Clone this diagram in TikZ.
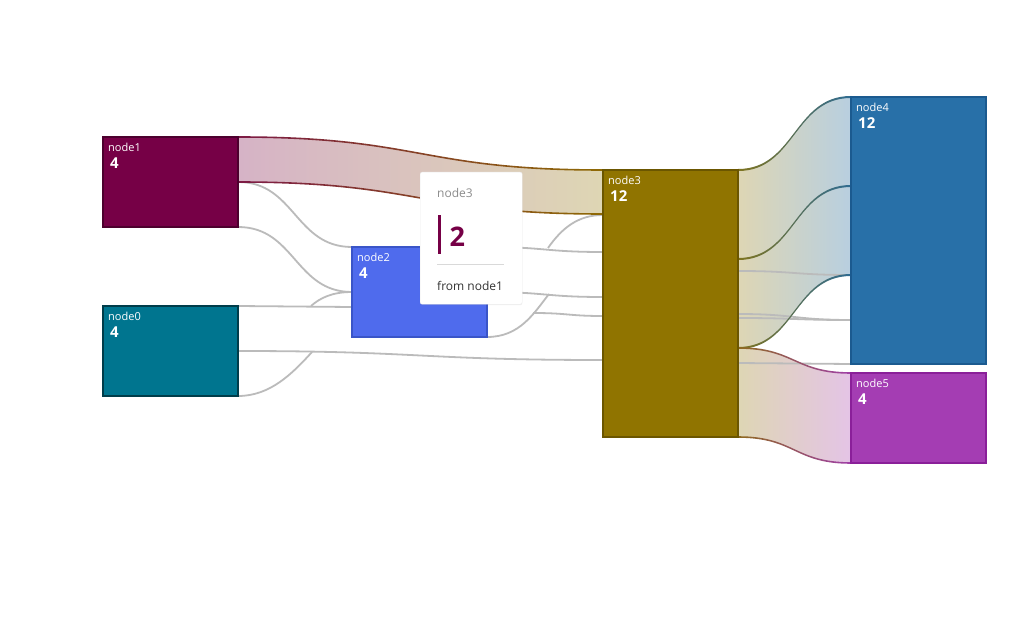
\documentclass[tikz,border=0pt]{standalone}
\usepackage{fontspec}
\setmainfont{Open Sans}
\usepackage{tikz}
\usetikzlibrary{shadows}
\definecolor{n0fill}{HTML}{00758F}
\definecolor{n0line}{HTML}{003D4A}
\definecolor{n1fill}{HTML}{760046}
\definecolor{n1line}{HTML}{4D002E}
\definecolor{n2fill}{HTML}{4F6BED}
\definecolor{n2line}{HTML}{3A55C8}
\definecolor{n3fill}{HTML}{907400}
\definecolor{n3line}{HTML}{6B5600}
\definecolor{n4fill}{HTML}{2870A8}
\definecolor{n4line}{HTML}{1B5A8F}
\definecolor{n5fill}{HTML}{A43DB3}
\definecolor{n5line}{HTML}{8A1F99}
\definecolor{linkgray}{HTML}{BBBBBB}
\definecolor{tan}{HTML}{DED6B4}
\definecolor{l13left}{HTML}{D6B3C6}
\definecolor{l34right}{HTML}{B8CFE0}
\definecolor{l35right}{HTML}{E4C4E6}
\definecolor{s13left}{HTML}{7D1A45}
\definecolor{s13right}{HTML}{8F6A05}
\definecolor{s34left}{HTML}{7F7420}
\definecolor{s34right}{HTML}{2F6C92}
\definecolor{s35left}{HTML}{8F6A20}
\definecolor{s35right}{HTML}{A040A8}
\tikzset{
    sknode/.style={
        draw, line width=2pt,
        inner sep=0pt, outer sep=0pt,
        anchor=north west,
        minimum width=135pt
    },
    smallbox/.style={minimum height=90pt},
    bigbox/.style={minimum height=267pt},
    nname/.style={anchor=west, inner sep=0pt, text=white, font=\fontsize{11}{13}\selectfont},
    nval/.style={anchor=west, inner sep=0pt, text=white, font=\fontsize{15}{18}\selectfont\bfseries},
    grayline/.style={draw=linkgray, line width=1.8pt},
    tipbox/.style={
        fill=white, draw=black!7, rounded corners=2pt,
        anchor=north west, inner sep=0pt,
        minimum width=102pt, minimum height=132pt,
        drop shadow={shadow xshift=0pt, shadow yshift=-1pt, opacity=0.12}
    },
    tiptext/.style={anchor=west, inner sep=0pt, font=\fontsize{12}{14}\selectfont}
}

\begin{document}
\begin{tikzpicture}[x=1pt, y=-1pt]

    % Canvas
    \useasboundingbox (0,0) rectangle (1032,628);
    \fill[white] (0,0) rectangle (1032,628);

    % Nodes (placed first, drawn again on top)
    \path (103,306) node[sknode, smallbox] (node0) {};
    \path (103,137) node[sknode, smallbox] (node1) {};
    \path (352,247) node[sknode, smallbox] (node2) {};
    \path (603,170) node[sknode, bigbox] (node3) {};
    \path (851,97) node[sknode, bigbox] (node4) {};
    \path (851,373) node[sknode, smallbox] (node5) {};

    % Link fills
    \shade[left color=l13left, right color=tan] (node1.north east) .. controls +(182,0) and +(-182,0) .. (node3.north west)
        -- ([yshift=-44pt]node3.north west) .. controls +(-182,0) and +(182,0) .. (node1.east) -- cycle;
    \shade[left color=tan, right color=l34right] (node3.north east) .. controls +(57,0) and +(-57,0) .. (node4.north west)
        -- ([yshift=-89pt]node4.north west) .. controls +(-57,0) and +(57,0) .. ([yshift=-89pt]node3.north east) -- cycle;
    \shade[left color=tan, right color=l34right] ([yshift=-89pt]node3.north east) .. controls +(57,0) and +(-57,0) .. ([yshift=-89pt]node4.north west)
        -- ([yshift=-178pt]node4.north west) .. controls +(-57,0) and +(57,0) .. ([yshift=-178pt]node3.north east) -- cycle;
    \shade[left color=tan, right color=l35right] ([yshift=-178pt]node3.north east) .. controls +(57,0) and +(-57,0) .. (node5.north west)
        -- (node5.south west) .. controls +(-57,0) and +(57,0) .. (node3.south east) -- cycle;

    % Gray links, left column
    \coordinate (j02) at (311,306);
    \coordinate (j03) at (312,352);
    \draw[grayline] (node1.east) .. controls +(57,0) and +(-57,0) .. (node2.north west);
    \draw[grayline] (node1.south east) .. controls +(57,0) and +(-57,0) .. (node2.west);
    \draw[grayline] (node0.north east) -- ([yshift=-60pt]node2.north west);
    \draw[grayline] (j02) .. controls +(9,-8) and +(-20,0) .. (node2.west);
    \draw[grayline] (node0.east) .. controls +(182,0) and +(-182,0) .. ([yshift=-190pt]node3.north west);
    \draw[grayline] (node0.south east) .. controls +(32,0) and +(-20,22) .. (j03);

    % Gray links, middle column
    \coordinate (j23a) at (548,248);
    \coordinate (j23b) at (549,294);
    \coordinate (j23c) at (533,313);
    \draw[grayline] (node2.north east) .. controls +(58,0) and +(-58,0) .. ([yshift=-82pt]node3.north west);
    \draw[grayline] (node2.east) .. controls +(58,0) and +(-58,0) .. ([yshift=-127pt]node3.north west);
    \draw[grayline] (j23a) .. controls +(14,-20) and +(-25,0) .. ([yshift=-45pt]node3.north west);
    \draw[grayline] (node2.south east) .. controls +(33,0) and +(-15,19) .. (j23b);
    \draw[grayline] (j23c) .. controls +(35,0) and +(-35,0) .. ([yshift=-146pt]node3.north west);

    % Gray links, right column
    \draw[grayline] ([yshift=-101pt]node3.north east) .. controls +(57,0) and +(-57,0) .. ([yshift=-178pt]node4.north west);
    \draw[grayline] ([yshift=-144pt]node3.north east) .. controls +(57,0) and +(-57,0) .. ([yshift=-223pt]node4.north west);
    \draw[grayline] ([yshift=-148pt]node3.north east) .. controls +(57,0) and +(-57,0) .. ([yshift=-223pt]node4.north west);
    \draw[grayline] ([yshift=-193pt]node3.north east) .. controls +(57,0) and +(-57,0) .. (node4.south west);

    % Link edges node1 -> node3
    \shade[left color=s13left, right color=s13right] ([yshift=0.8pt]node1.north east) .. controls +(182,0) and +(-182,0) .. ([yshift=0.8pt]node3.north west)
        -- ([yshift=-0.8pt]node3.north west) .. controls +(-182,0) and +(182,0) .. ([yshift=-0.8pt]node1.north east) -- cycle;
    \shade[left color=s13left, right color=s13right] ([yshift=0.8pt]node1.east) .. controls +(182,0) and +(-182,0) .. ([yshift=-43.2pt]node3.north west)
        -- ([yshift=-44.8pt]node3.north west) .. controls +(-182,0) and +(182,0) .. ([yshift=-0.8pt]node1.east) -- cycle;

    % Link edges node3 -> node4
    \shade[left color=s34left, right color=s34right] ([yshift=1pt]node3.north east) .. controls +(57,0) and +(-57,0) .. ([yshift=1pt]node4.north west)
        -- ([yshift=-1pt]node4.north west) .. controls +(-57,0) and +(57,0) .. ([yshift=-1pt]node3.north east) -- cycle;
    \shade[left color=s34left, right color=s34right] ([yshift=-88pt]node3.north east) .. controls +(57,0) and +(-57,0) .. ([yshift=-88pt]node4.north west)
        -- ([yshift=-90pt]node4.north west) .. controls +(-57,0) and +(57,0) .. ([yshift=-90pt]node3.north east) -- cycle;
    \shade[left color=s34left, right color=s34right] ([yshift=-177pt]node3.north east) .. controls +(57,0) and +(-57,0) .. ([yshift=-177pt]node4.north west)
        -- ([yshift=-179pt]node4.north west) .. controls +(-57,0) and +(57,0) .. ([yshift=-179pt]node3.north east) -- cycle;

    % Link edges node3 -> node5
    \shade[left color=s35left, right color=s35right] ([yshift=-177.2pt]node3.north east) .. controls +(57,0) and +(-57,0) .. ([yshift=0.8pt]node5.north west)
        -- ([yshift=-0.8pt]node5.north west) .. controls +(-57,0) and +(57,0) .. ([yshift=-178.8pt]node3.north east) -- cycle;
    \shade[left color=s35left, right color=s35right] ([yshift=0.8pt]node3.south east) .. controls +(57,0) and +(-57,0) .. ([yshift=0.8pt]node5.south west)
        -- ([yshift=-0.8pt]node5.south west) .. controls +(-57,0) and +(57,0) .. ([yshift=-0.8pt]node3.south east) -- cycle;

    % Node boxes
    \path[draw=n0line, fill=n0fill, line width=2pt] (node0.north west) rectangle (node0.south east);
    \path[draw=n1line, fill=n1fill, line width=2pt] (node1.north west) rectangle (node1.south east);
    \path[draw=n2line, fill=n2fill, line width=2pt] (node2.north west) rectangle (node2.south east);
    \path[draw=n3line, fill=n3fill, line width=2pt] (node3.north west) rectangle (node3.south east);
    \path[draw=n4line, fill=n4fill, line width=2pt] (node4.north west) rectangle (node4.south east);
    \path[draw=n5line, fill=n5fill, line width=2pt] (node5.north west) rectangle (node5.south east);

    % Node labels
    \node[nname] (node0name) at ([xshift=5pt, yshift=-10pt]node0.north west) {node0};
    \node[nval] (node0val) at ([xshift=7pt, yshift=-26pt]node0.north west) {4};
    \node[nname] (node1name) at ([xshift=5pt, yshift=-10pt]node1.north west) {node1};
    \node[nval] (node1val) at ([xshift=7pt, yshift=-26pt]node1.north west) {4};
    \node[nname] (node2name) at ([xshift=5pt, yshift=-10pt]node2.north west) {node2};
    \node[nval] (node2val) at ([xshift=7pt, yshift=-26pt]node2.north west) {4};
    \node[nname] (node3name) at ([xshift=5pt, yshift=-10pt]node3.north west) {node3};
    \node[nval] (node3val) at ([xshift=7pt, yshift=-26pt]node3.north west) {12};
    \node[nname] (node4name) at ([xshift=5pt, yshift=-10pt]node4.north west) {node4};
    \node[nval] (node4val) at ([xshift=7pt, yshift=-26pt]node4.north west) {12};
    \node[nname] (node5name) at ([xshift=5pt, yshift=-10pt]node5.north west) {node5};
    \node[nval] (node5val) at ([xshift=7pt, yshift=-26pt]node5.north west) {4};

    % Tooltip
    \node[tipbox] (tip) at (420,172) {};
    \node[tiptext, text=black!45] (tiptitle) at ([xshift=17pt, yshift=-21pt]tip.north west) {node3};
    \fill[n1fill] ([xshift=17.5pt, yshift=-43pt]tip.north west) rectangle ++(3.6,39);
    \node[tiptext, text=n1fill, font=\fontsize{27}{30}\selectfont\bfseries] (tipvalue) at ([xshift=29.5pt, yshift=-65pt]tip.north west) {2};
    \draw[black!15, line width=0.8pt] ([xshift=17pt, yshift=-92pt]tip.north west) -- ++(67,0);
    \node[tiptext, text=black!80] (tipfrom) at ([xshift=17pt, yshift=-113.5pt]tip.north west) {from node1};

\end{tikzpicture}
\end{document}
